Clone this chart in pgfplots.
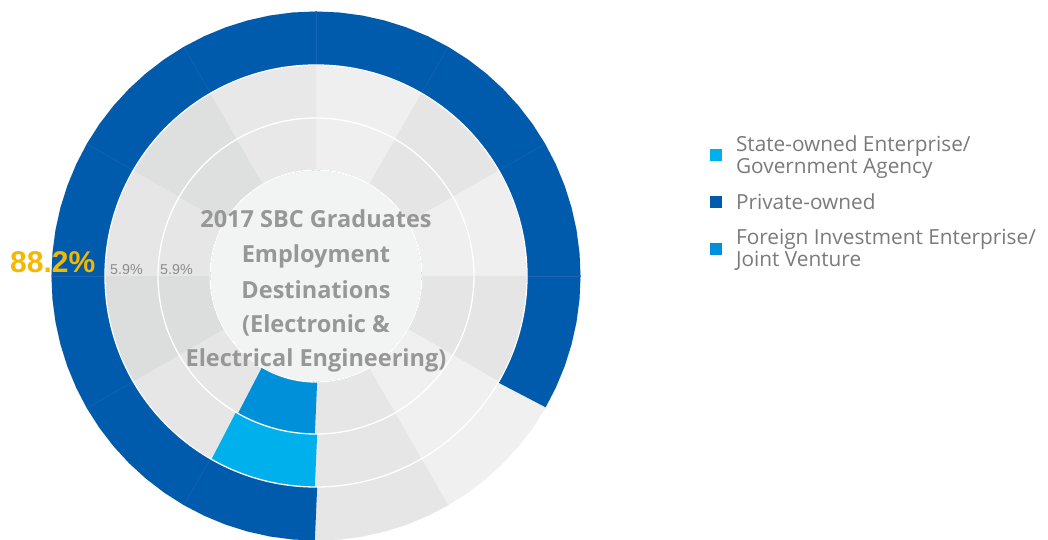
\documentclass[border=0pt]{standalone}
\usepackage{pgfplots}
\pgfplotsset{compat=1.18}
\usepackage{fontspec}
\setmainfont{Open Sans}
\newfontfamily\arialfont{Liberation Sans}
\definecolor{pvt}{HTML}{005BAC}
\definecolor{pvtseam}{HTML}{1C64B2}
\definecolor{soe}{HTML}{00B0EC}
\definecolor{fie}{HTML}{0090DA}
\definecolor{disk}{HTML}{F2F3F3}
\definecolor{gA}{HTML}{EFEFEF}
\definecolor{gB}{HTML}{E5E5E5}
\definecolor{gC}{HTML}{F0F0F0}
\definecolor{gD}{HTML}{E6E6E6}
\definecolor{gE}{HTML}{DCDDDD}
\definecolor{gF}{HTML}{DEDFDF}
\definecolor{gG}{HTML}{E8E8E8}
\definecolor{titlegray}{HTML}{979797}
\definecolor{leggray}{HTML}{7A7A7A}
\definecolor{gold}{HTML}{F5B700}
\definecolor{smallgray}{HTML}{8C8C8C}
\pgfplotsset{wedge/.style={forget plot, data cs=polar, fill=#1, draw=#1, line width=0.4bp}}
\begin{document}
\begin{tikzpicture}
\begin{axis}[
  set layers=standard,
  x=1bp, y=1bp, xmin=-316, xmax=732, ymin=-264, ymax=276,
  hide axis, clip=true,
  legend cell align=left,
  legend image code/.code={\draw[line width=12bp] (0bp,0bp) -- (12bp,0bp);},
  legend style={draw=none, fill=none, inner sep=0pt, outer sep=0pt,
    at={(axis description cs:0.6718,0.7496)}, anchor=north west,
    font=\fontsize{20.8bp}{22.3bp}\selectfont, text=leggray,
    cells={align=left}, row sep=18.5bp, column sep=8bp,
    nodes={inner sep=0pt}},
]
% background sectors (12 x 30 degrees)
\addplot[wedge=gA] coordinates {(0,0) (60,264.5) (65,264.5) (70,264.5) (75,264.5) (80,264.5) (85,264.5) (90,264.5)};
\addplot[wedge=gB] coordinates {(0,0) (30,264.5) (35,264.5) (40,264.5) (45,264.5) (50,264.5) (55,264.5) (60,264.5)};
\addplot[wedge=gA] coordinates {(0,0) (0,264.5) (5,264.5) (10,264.5) (15,264.5) (20,264.5) (25,264.5) (30,264.5)};
\addplot[wedge=gB] coordinates {(0,0) (-30,264.5) (-25,264.5) (-20,264.5) (-15,264.5) (-10,264.5) (-5,264.5) (0,264.5)};
\addplot[wedge=gC] coordinates {(0,0) (-60,264.5) (-55,264.5) (-50,264.5) (-45,264.5) (-40,264.5) (-35,264.5) (-30,264.5)};
\addplot[wedge=gD] coordinates {(0,0) (-90,264.5) (-85,264.5) (-80,264.5) (-75,264.5) (-70,264.5) (-65,264.5) (-60,264.5)};
\addplot[wedge=gG] coordinates {(0,0) (-120,264.5) (-115,264.5) (-110,264.5) (-105,264.5) (-100,264.5) (-95,264.5) (-90,264.5)};
\addplot[wedge=gD] coordinates {(0,0) (-150,264.5) (-145,264.5) (-140,264.5) (-135,264.5) (-130,264.5) (-125,264.5) (-120,264.5)};
\addplot[wedge=gE] coordinates {(0,0) (-180,264.5) (-175,264.5) (-170,264.5) (-165,264.5) (-160,264.5) (-155,264.5) (-150,264.5)};
\addplot[wedge=gD] coordinates {(0,0) (150,264.5) (155,264.5) (160,264.5) (165,264.5) (170,264.5) (175,264.5) (180,264.5)};
\addplot[wedge=gF] coordinates {(0,0) (120,264.5) (125,264.5) (130,264.5) (135,264.5) (140,264.5) (145,264.5) (150,264.5)};
\addplot[wedge=gG] coordinates {(0,0) (90,264.5) (95,264.5) (100,264.5) (105,264.5) (110,264.5) (115,264.5) (120,264.5)};
% middle ring: State-owned Enterprise / Government Agency 5.9%
\addplot[soe, line width=53bp, data cs=polar] coordinates {(-120,184.5) (-115,184.5) (-110,184.5) (-105,184.5) (-100,184.5) (-95,184.5) (-90,184.5)};
\addlegendentry{State-owned Enterprise/\\Government Agency}
% outer ring: Private-owned 88.2%
\addplot[pvt, line width=53.5bp, data cs=polar] coordinates {(-30,237.75) (-25,237.75) (-20,237.75) (-15,237.75) (-10,237.75) (-5,237.75) (0,237.75) (5,237.75) (10,237.75) (15,237.75) (20,237.75) (25,237.75) (30,237.75) (35,237.75) (40,237.75) (45,237.75) (50,237.75) (55,237.75) (60,237.75) (65,237.75) (70,237.75) (75,237.75) (80,237.75) (85,237.75) (90,237.75) (95,237.75) (100,237.75) (105,237.75) (110,237.75) (115,237.75) (120,237.75) (125,237.75) (130,237.75) (135,237.75) (140,237.75) (145,237.75) (150,237.75) (155,237.75) (160,237.75) (165,237.75) (170,237.75) (175,237.75) (180,237.75) (185,237.75) (190,237.75) (195,237.75) (200,237.75) (205,237.75) (210,237.75) (215,237.75) (220,237.75) (225,237.75) (230,237.75) (235,237.75) (240,237.75) (245,237.75) (250,237.75) (255,237.75) (260,237.75) (265,237.75) (270,237.75)};
\addlegendentry{Private-owned}
% inner ring: Foreign Investment Enterprise / Joint Venture 5.9%
\addplot[fie, line width=52bp, data cs=polar] coordinates {(-120,132) (-115,132) (-110,132) (-105,132) (-100,132) (-95,132) (-90,132)};
\addlegendentry{Foreign Investment Enterprise/\\Joint Venture}
% faint seams in the outer bar
\pgfplotsinvokeforeach{0,30,60,90,120,150,180,210,240}{
  \addplot[forget plot, data cs=polar, draw=pvtseam, line width=0.5bp] coordinates {(#1,211) (#1,264.5)};
}
% centre disk and white ring separators
\addplot[forget plot, only marks, mark=*, mark size=106bp, mark options={fill=disk, draw=none}] coordinates {(0,0)};
\addplot[forget plot, only marks, mark=o, mark size=106bp, mark options={draw=white, line width=1.3bp}] coordinates {(0,0)};
\addplot[forget plot, only marks, mark=o, mark size=158bp, mark options={draw=white, line width=1.3bp}] coordinates {(0,0)};
\addplot[forget plot, only marks, mark=o, mark size=211bp, mark options={draw=white, line width=1.3bp}] coordinates {(0,0)};
\begin{pgfonlayer}{axis foreground}
% centre title
\node[anchor=base, inner sep=0pt, text=titlegray, font=\fontsize{23.5bp}{23.5bp}\selectfont\bfseries] at (axis cs:0,48.7) {2017 SBC Graduates};
\node[anchor=base, inner sep=0pt, text=titlegray, font=\fontsize{23.5bp}{23.5bp}\selectfont\bfseries] at (axis cs:0,13.3) {Employment};
\node[anchor=base, inner sep=0pt, text=titlegray, font=\fontsize{23.5bp}{23.5bp}\selectfont\bfseries] at (axis cs:0,-22.3) {Destinations};
\node[anchor=base, inner sep=0pt, text=titlegray, font=\fontsize{23.5bp}{23.5bp}\selectfont\bfseries] at (axis cs:0,-56.7) {(Electronic \&};
\node[anchor=base, inner sep=0pt, text=titlegray, font=\fontsize{23.5bp}{23.5bp}\selectfont\bfseries] at (axis cs:0,-90.7) {Electrical Engineering)};
% value labels
\node[anchor=base west, inner sep=0pt, text=gold, font=\arialfont\fontsize{30bp}{30bp}\selectfont\bfseries] at (axis cs:-306,3) {88.2\%};
\node[anchor=base west, inner sep=0pt, text=smallgray, font=\arialfont\fontsize{14.3bp}{14.3bp}\selectfont] at (axis cs:-206,1.7) {5.9\%};
\node[anchor=base west, inner sep=0pt, text=smallgray, font=\arialfont\fontsize{14.3bp}{14.3bp}\selectfont] at (axis cs:-156,1.7) {5.9\%};
\end{pgfonlayer}
\end{axis}
\pgfresetboundingbox
\path (current axis.south west) rectangle (current axis.north east);
\end{tikzpicture}
\end{document}
